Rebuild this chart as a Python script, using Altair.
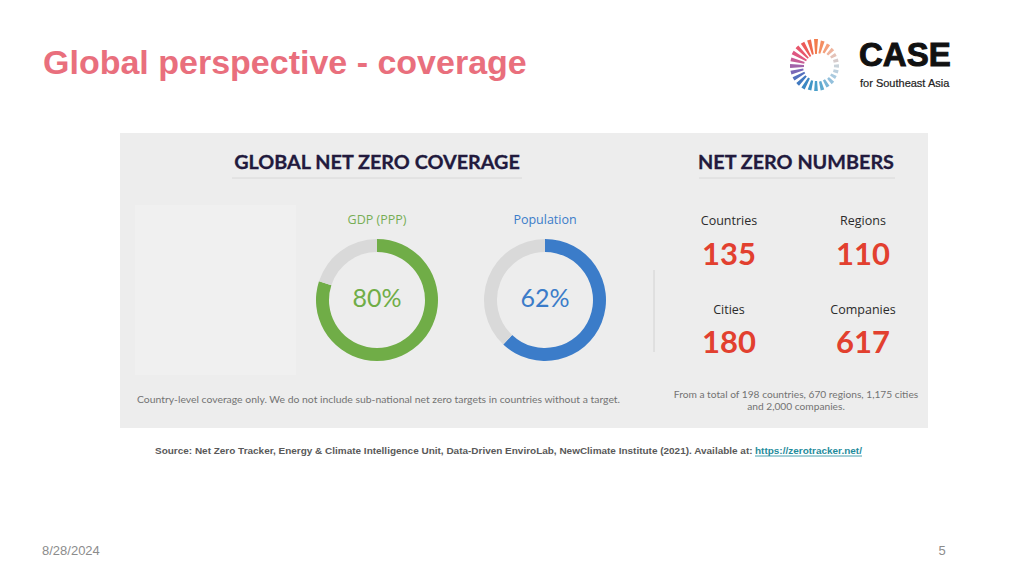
import altair as alt
import pandas as pd
import math

# ---------------- data ----------------
coverage_labels = ["GDP (PPP)", "Population"]
coverage_pct = [80, 62]
number_labels = ["Countries", "Regions", "Cities", "Companies"]
number_values = [135, 110, 180, 617]
totals_note = ["From a total of 198 countries, 670 regions, 1,175 cities",
               "and 2,000 companies."]
coverage_note = "Country-level coverage only. We do not include sub-national net zero targets in countries without a target."
source_text = ("Source: Net Zero Tracker, Energy & Climate Intelligence Unit, Data-Driven EnviroLab, "
               "NewClimate Institute (2021). Available at:")
source_link = "https://zerotracker.net/"
slide_title = "Global perspective - coverage"
slide_date = "8/28/2024"
slide_number = "5"

# ---------------- helpers ----------------
OFF = 8


def px(v):
    return alt.value(v - OFF)


one = alt.Data(values=[{"k": 1}])


def text_layer(s, x, y, size, color, font="Lato", weight="normal", align="center",
               stroke=None, sw=0):
    kw = dict(text=s, fontSize=size, color=color, font=font, fontWeight=weight,
              align=align, baseline="alphabetic")
    if stroke:
        kw["stroke"] = stroke
        kw["strokeWidth"] = sw
    return alt.Chart(one).mark_text(**kw).encode(x=px(x), y=px(y))


def rect_layer(x1, x2, y1, y2, color):
    return alt.Chart(one).mark_rect(color=color).encode(
        x=px(x1), x2=px(x2), y=px(y1), y2=px(y2))


def rule_layer(x1, x2, y1, y2, color, w=1.0):
    return alt.Chart(one).mark_rule(color=color, strokeWidth=w).encode(
        x=px(x1), x2=px(x2), y=px(y1), y2=px(y2))


layers = []

# panel
layers.append(rect_layer(120, 928, 133, 428, "#EDEDED"))
layers.append(rect_layer(135, 296, 205, 375, "#F0F0F0"))

# headings
HEAD = "#221A3D"
layers.append(text_layer("GLOBAL NET ZERO COVERAGE", 377, 169, 19.8, HEAD, weight="bold",
                         stroke=HEAD, sw=0.3))
layers.append(text_layer("NET ZERO NUMBERS", 796, 169, 19.8, HEAD, weight="bold",
                         stroke=HEAD, sw=0.3))
layers.append(rule_layer(232, 522, 178, 178, "#D8D8D8"))
layers.append(rule_layer(699, 895, 178, 178, "#D8D8D8"))
layers.append(rule_layer(654, 654, 270, 352, "#D2D2D2"))

# donuts
donut_specs = [(377, 300, "#70AD47", "#77AD55"), (545, 300, "#3B7CC9", "#3B7CC9")]
for i, (cx, cy, col, tcol) in enumerate(donut_specs):
    df = pd.DataFrame({"part": ["covered", "rest"],
                       "v": [coverage_pct[i], 100 - coverage_pct[i]],
                       "o": [0, 1]})
    layers.append(
        alt.Chart(df).mark_arc(outerRadius=61, innerRadius=48).encode(
            x=px(cx), y=px(cy),
            theta=alt.Theta("v:Q", stack=True),
            order=alt.Order("o:Q"),
            color=alt.Color("part:N",
                            scale=alt.Scale(domain=["covered", "rest"], range=[col, "#D9D9D9"]),
                            legend=None),
        )
    )
    lab = pd.DataFrame({"name": [coverage_labels[i]], "v": [coverage_pct[i]]})
    layers.append(
        alt.Chart(lab).transform_calculate(t="datum.v + '%'").mark_text(
            fontSize=25, color=col, font="Lato", align="center", baseline="alphabetic"
        ).encode(x=px(cx), y=px(307), text="t:N")
    )
    layers.append(
        alt.Chart(lab).mark_text(
            fontSize=12.5, color=tcol, font="Open Sans", align="center", baseline="alphabetic"
        ).encode(x=px(cx), y=px(224), text="name:N")
    )

# numbers
num_df = pd.DataFrame({"label": number_labels, "value": number_values})
num_pos = [(729, 225, 265), (863, 225, 265), (729, 314, 353), (863, 314, 353)]
for i, (x, yl, yv) in enumerate(num_pos):
    base = alt.Chart(num_df).transform_filter(alt.datum.label == number_labels[i])
    layers.append(base.mark_text(fontSize=12.5, color="#2B2B2B", font="Open Sans",
                                 align="center", baseline="alphabetic")
                  .encode(x=px(x), y=px(yl), text="label:N"))
    layers.append(base.mark_text(fontSize=31, color="#E2402F", font="Lato", fontWeight="bold",
                                 align="center", baseline="alphabetic")
                  .encode(x=px(x), y=px(yv), text="value:Q"))

# notes in panel
NOTE = "#737373"
layers.append(text_layer(totals_note[0], 796, 398, 10.2, NOTE))
layers.append(text_layer(totals_note[1], 796, 410, 10.2, NOTE))
layers.append(text_layer(coverage_note, 137, 403, 10.4, NOTE, align="left"))

# source line
layers.append(text_layer(source_text, 155, 454, 9.98, "#595959",
                         font="Liberation Sans", weight="bold", align="left"))
layers.append(text_layer(source_link, 755, 454, 9.98, "#1F8C9C",
                         font="Liberation Sans", weight="bold", align="left"))
layers.append(rule_layer(755, 862, 456, 456, "#1F8C9C", 0.8))

# title
layers.append(text_layer(slide_title, 43, 74, 34, "#E96F7D",
                         font="Liberation Sans", weight="bold", align="left"))

# logo text
layers.append(text_layer("CASE", 859, 66, 33, "#111111",
                         font="Liberation Sans", weight="bold", align="left",
                         stroke="#111111", sw=1.0))
layers.append(text_layer("for Southeast Asia", 860, 87, 11, "#222222",
                         font="Liberation Sans", align="left", stroke="#222222", sw=0.2))

# logo ring (decorative rays)
ray_colors = ["#F27C4C", "#F48E62", "#F4A07C", "#EFB39C", "#E4C2B8", "#D6CCCC",
              "#C8D2D9", "#BCD0DE", "#A9CADF", "#93C0DC", "#79B5D6", "#5FA9CF",
              "#4A9FCA", "#3F95C6", "#3C88C3", "#4079C0", "#5370BE", "#7A68B7",
              "#A262A9", "#C65C96", "#DE5882", "#E8566C", "#EC5A58", "#EF6A4E"]
ray_inner = [12, 13, 15, 16, 17, 18, 18, 18, 17, 17, 16, 16,
             15, 15, 14, 14, 13, 13, 12, 12, 11, 11, 11, 12]
ray_outer = [27, 26, 25, 24, 23, 23, 23, 23, 23, 24, 24, 25,
             25, 25, 26, 26, 26, 26, 26, 26, 27, 27, 27, 27]
logo_rows = []
for i, c in enumerate(ray_colors):
    a = math.radians(i * 15)
    logo_rows.append({"t0": a - math.radians(4.2), "t1": a + math.radians(4.2),
                      "ri": ray_inner[i], "ro": ray_outer[i], "c": c})
layers.append(
    alt.Chart(pd.DataFrame(logo_rows)).mark_arc().encode(
        x=px(816), y=px(66),
        theta=alt.Theta("t0:Q", scale=None, stack=None),
        theta2="t1:Q",
        radius=alt.Radius("ro:Q", scale=None),
        radius2="ri:Q",
        color=alt.Color("c:N", scale=None),
    )
)

# footer
layers.append(text_layer(slide_date, 42, 555, 13, "#8C8C8C",
                         font="Liberation Sans", align="left"))
layers.append(text_layer(slide_number, 942, 555, 13, "#8C8C8C",
                         font="Liberation Sans", align="center"))

chart = alt.layer(*layers).resolve_scale(
    color="independent", theta="independent", radius="independent"
).properties(
    width=1000, height=555, padding=0, background="white"
).configure_view(stroke=None)

chart.save("out.html", embed_options={"renderer": "svg", "actions": False})
